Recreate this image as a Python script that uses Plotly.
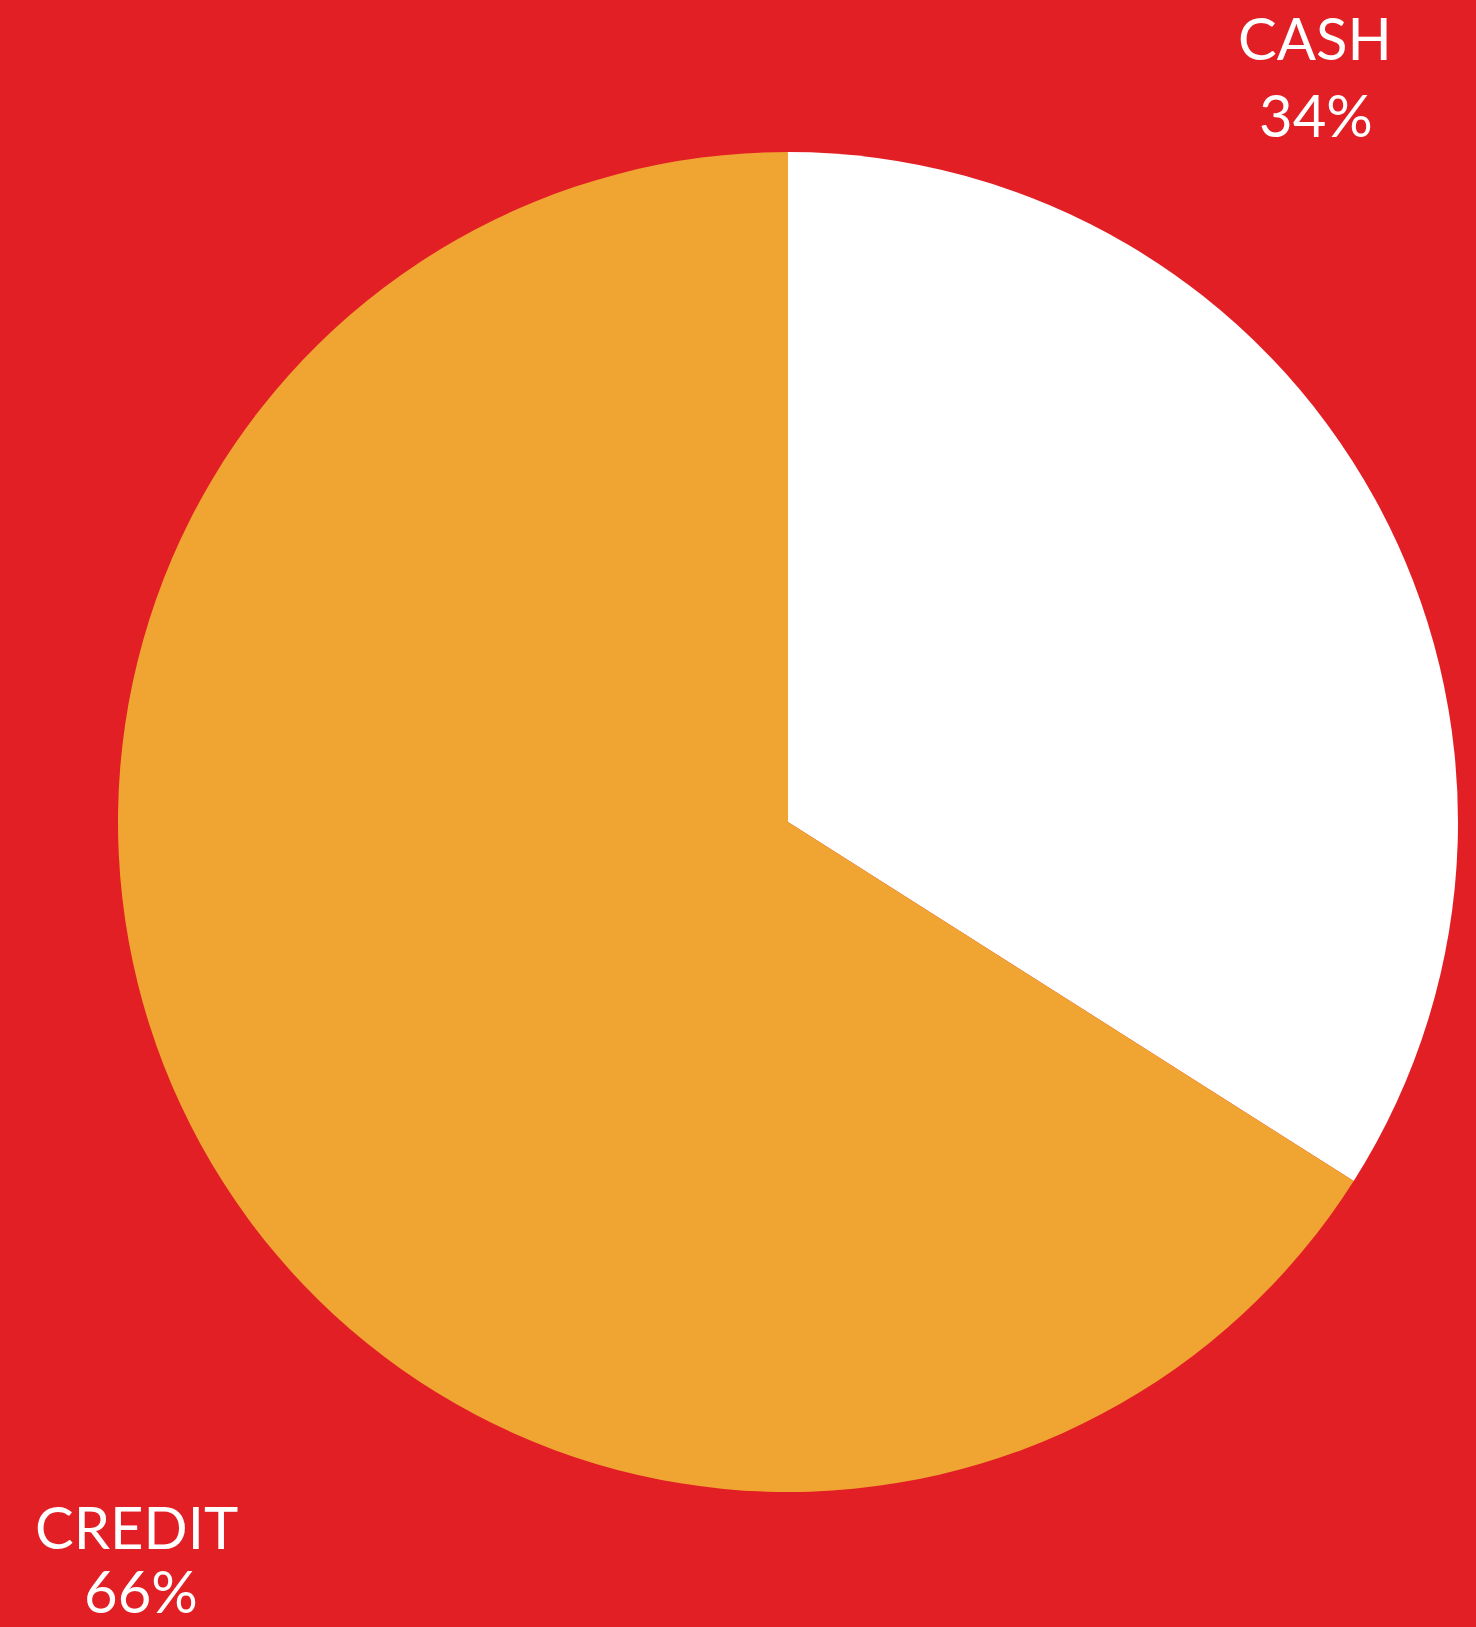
import plotly.graph_objects as go

labels = ["CASH", "CREDIT"]
values = [34, 66]
colors = ["#FFFFFF", "#F0A431"]
label_text = ["CASH", "CREDIT"]
pct_text = ["34%", "66%"]

W, H = 1476, 1627
cx, cy, r = 788, 822, 670

fig = go.Figure(go.Pie(
    labels=labels, values=values, sort=False, direction="clockwise", rotation=0,
    marker=dict(colors=colors, line=dict(width=0)),
    textinfo="none", hoverinfo="label+percent", showlegend=False,
    domain=dict(x=[(cx - r) / W, (cx + r) / W], y=[(H - cy - r) / H, (H - cy + r) / H]),
))

font = dict(family="Lato, 'Open Sans', sans-serif", size=58, color="white")
anns = [
    dict(x=1315 / W, y=1 - 38 / H, text=label_text[0], yanchor="middle"),
    dict(x=1316 / W, y=1 - 114 / H, text=pct_text[0], yanchor="middle"),
    dict(x=136 / W, y=1 - 1526 / H, text=label_text[1], yanchor="middle"),
    dict(x=141 / W, y=0, text=pct_text[1], yanchor="bottom"),
]
for a in anns:
    a.update(xref="paper", yref="paper", showarrow=False, xanchor="center", font=font)

fig.update_layout(
    width=W, height=H, margin=dict(l=0, r=0, t=0, b=0),
    paper_bgcolor="#E31F26", plot_bgcolor="#E31F26",
    annotations=anns,
)
fig.write_html("out.html")
